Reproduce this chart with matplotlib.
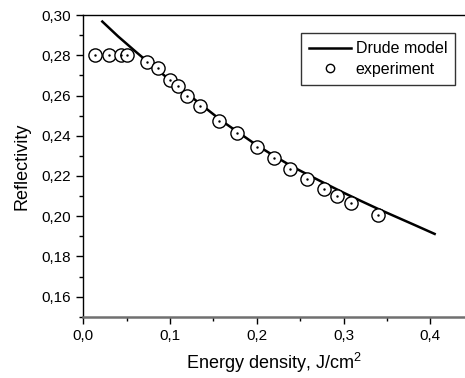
import numpy as np
import matplotlib
matplotlib.use('Agg')
import matplotlib.pyplot as plt
from matplotlib.ticker import FuncFormatter, MultipleLocator

plt.rcParams['font.family'] = ['Liberation Sans', 'DejaVu Sans']

# Drude model curve
model_x = [0.022, 0.04, 0.06, 0.08, 0.10, 0.12, 0.14, 0.16, 0.18, 0.20, 0.22,
           0.24, 0.26, 0.28, 0.30, 0.32, 0.34, 0.36, 0.38, 0.405]
model_y = [0.2968, 0.2895, 0.2820, 0.2747, 0.2677, 0.2609, 0.2541, 0.2473,
           0.2413, 0.2353, 0.2300, 0.2249, 0.2204, 0.2160, 0.2117, 0.2076,
           0.2036, 0.1998, 0.1960, 0.1912]

# experimental points
exp_x = [0.0138, 0.0296, 0.0431, 0.0508, 0.0740, 0.0858, 0.0996, 0.1090,
         0.1196, 0.1350, 0.1565, 0.1777, 0.2000, 0.2200, 0.2384, 0.2577,
         0.2776, 0.2923, 0.3088, 0.3400]
exp_y = [0.2800, 0.2800, 0.2800, 0.2800, 0.2765, 0.2735, 0.2677, 0.2647,
         0.2597, 0.2549, 0.2473, 0.2416, 0.2342, 0.2290, 0.2234, 0.2183,
         0.2137, 0.2101, 0.2068, 0.2005]

fig = plt.figure(figsize=(4.65, 3.78), dpi=100)
ax = fig.add_axes([0.179, 0.162, 0.821, 0.798])

ax.plot(model_x, model_y, color='black', lw=1.8, label='Drude model')
ax.plot(exp_x, exp_y, 'o', ms=9.5, mfc='white', mec='black', mew=1.0,
        label='experiment', zorder=3)
ax.plot(exp_x, exp_y, '.', ms=1.5, color='black', zorder=4)

ax.set_xlim(0, 0.44)
ax.set_ylim(0.15, 0.30)
ax.xaxis.set_major_locator(MultipleLocator(0.1))
ax.xaxis.set_minor_locator(MultipleLocator(0.05))
ax.yaxis.set_major_locator(MultipleLocator(0.02))
ax.yaxis.set_minor_locator(MultipleLocator(0.01))
ax.xaxis.set_major_formatter(FuncFormatter(lambda v, p: f'{v:.1f}'.replace('.', ',')))
ax.yaxis.set_major_formatter(FuncFormatter(lambda v, p: f'{v:.2f}'.replace('.', ',')))
ax.tick_params(which='both', direction='out', labelsize=11, width=1)
ax.tick_params(which='major', length=5)
ax.tick_params(which='minor', length=3)

ax.spines['right'].set_visible(False)
ax.spines['top'].set_linewidth(1.0)
ax.spines['left'].set_linewidth(1.0)
ax.spines['bottom'].set_color('#707070')
ax.spines['bottom'].set_linewidth(1.8)

ax.set_xlabel('Energy density, J/cm$^{\\mathregular{2}}$', fontsize=13, labelpad=6)
ax.set_ylabel('Reflectivity', fontsize=13, labelpad=8)

leg = ax.legend(loc='upper right', bbox_to_anchor=(0.974, 0.94), borderaxespad=0,
                fontsize=11.5, frameon=True, fancybox=False, edgecolor='black',
                handlelength=2.6, borderpad=0.5, labelspacing=0.35, handletextpad=0.3)
leg.get_frame().set_linewidth(1.0)
for h in leg.legend_handles:
    if h.get_marker() == 'o':
        h.set_markersize(6)

fig.savefig('out.png', dpi=100)
